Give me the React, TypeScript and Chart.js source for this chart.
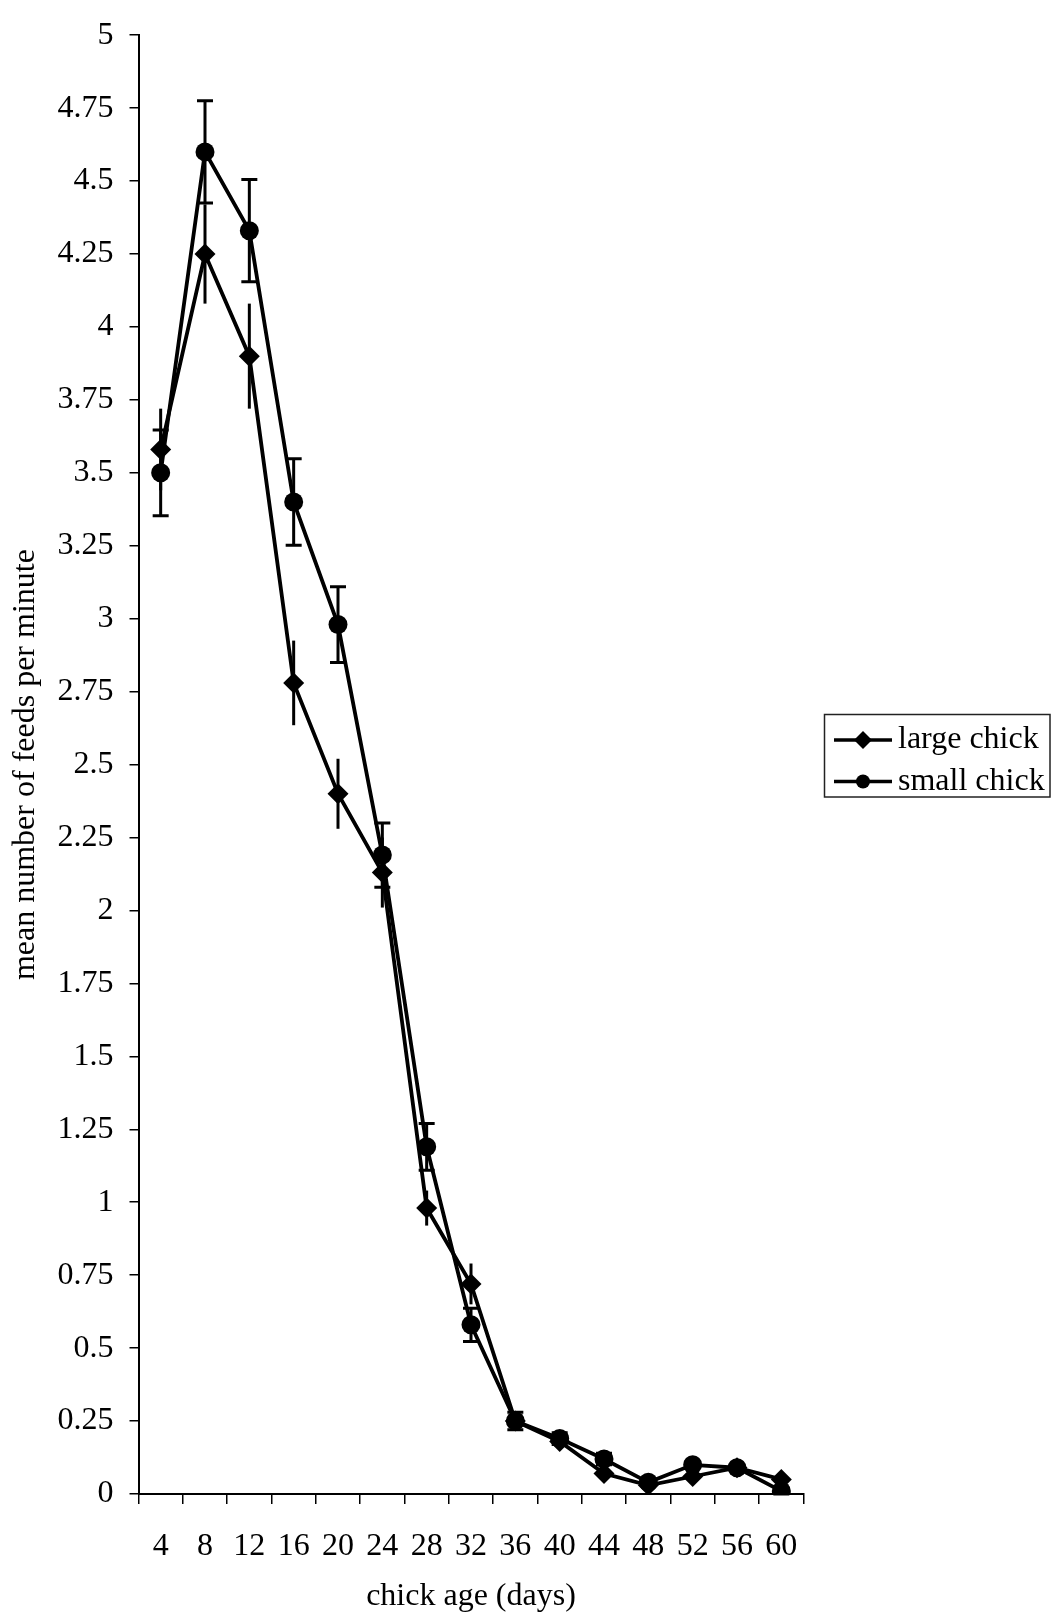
import React, { useEffect, useRef } from "react";
import { Chart, registerables } from "chart.js";

Chart.register(...registerables);

const categories = ["4", "8", "12", "16", "20", "24", "28", "32", "36", "40", "44", "48", "52", "56", "60"];
const largeChick = [3.58, 4.25, 3.9, 2.78, 2.4, 2.13, 0.98, 0.72, 0.25, 0.18, 0.07, 0.03, 0.06, 0.09, 0.05];
const largeChickErr = [0.14, 0.17, 0.18, 0.145, 0.12, 0.12, 0.06, 0.07, 0.03, 0.015, 0.015, 0.01, 0.01, 0.01, 0.01];
const smallChick = [3.5, 4.6, 4.33, 3.4, 2.98, 2.19, 1.19, 0.58, 0.25, 0.19, 0.12, 0.04, 0.1, 0.09, 0.01];
const smallChickErr = [0.147, 0.175, 0.175, 0.148, 0.13, 0.11, 0.08, 0.057, 0.03, 0.02, 0.02, 0.01, 0.01, 0.01, 0.01];
const yMin = 0;
const yMax = 5;
const yStep = 0.25;
const seriesLabels = ["large chick", "small chick"];
const xTitle = "chick age (days)";
const yTitle = "mean number of feeds per minute";

const FONT = '"Liberation Serif", "Times New Roman", serif';

const errorBarPlugin = {
  id: "errorBars",
  afterDatasetsDraw(chart: any) {
    const ctx = chart.ctx;
    const yScale = chart.scales.y;
    const errs = [largeChickErr, smallChickErr];
    const vals = [largeChick, smallChick];
    const caps = [false, true];
    ctx.save();
    ctx.strokeStyle = "#000";
    ctx.lineWidth = 3;
    for (let d = 0; d < 2; d++) {
      const meta = chart.getDatasetMeta(d);
      meta.data.forEach((pt: any, i: number) => {
        const x = pt.x;
        const yTop = yScale.getPixelForValue(vals[d][i] + errs[d][i]);
        const yBot = yScale.getPixelForValue(vals[d][i] - errs[d][i]);
        ctx.beginPath();
        ctx.moveTo(x, yTop);
        ctx.lineTo(x, yBot);
        if (caps[d]) {
          ctx.moveTo(x - 8, yTop);
          ctx.lineTo(x + 8, yTop);
          ctx.moveTo(x - 8, yBot);
          ctx.lineTo(x + 8, yBot);
        }
        ctx.stroke();
      });
    }
    ctx.restore();
  },
};

const legendPlugin = {
  id: "boxLegend",
  afterDraw(chart: any) {
    const ctx = chart.ctx;
    ctx.save();
    ctx.strokeStyle = "#222";
    ctx.lineWidth = 1.5;
    ctx.strokeRect(824.5, 714.5, 225.5, 82.5);
    const rows = [740, 781.5];
    rows.forEach((y, i) => {
      ctx.strokeStyle = "#000";
      ctx.lineWidth = 3.5;
      ctx.beginPath();
      ctx.moveTo(834, y);
      ctx.lineTo(892, y);
      ctx.stroke();
      ctx.fillStyle = "#000";
      ctx.beginPath();
      if (i === 0) {
        ctx.moveTo(863, y - 9);
        ctx.lineTo(872, y);
        ctx.lineTo(863, y + 9);
        ctx.lineTo(854, y);
        ctx.closePath();
      } else {
        ctx.arc(863, y, 7, 0, Math.PI * 2);
      }
      ctx.fill();
      ctx.font = `32px ${FONT}`;
      ctx.textAlign = "left";
      ctx.textBaseline = "middle";
      ctx.fillText(chart.data.datasets[i].label, 898, y);
    });
    ctx.restore();
  },
};

export default function App() {
  const ref = useRef<HTMLCanvasElement | null>(null);
  useEffect(() => {
    if (!ref.current) return;
    const chart = new Chart(ref.current, {
      type: "line",
      data: {
        labels: categories,
        datasets: [
          {
            label: seriesLabels[0],
            data: largeChick,
            borderColor: "#000",
            backgroundColor: "#000",
            borderWidth: 3.8,
            pointStyle: "rectRot",
            pointRadius: 10.5,
            pointBorderWidth: 0,
            tension: 0,
          },
          {
            label: seriesLabels[1],
            data: smallChick,
            borderColor: "#000",
            backgroundColor: "#000",
            borderWidth: 3.8,
            pointStyle: "circle",
            pointRadius: 9.5,
            pointBorderWidth: 0,
            tension: 0,
          },
        ],
      },
      options: {
        responsive: false,
        animation: false,
        devicePixelRatio: 1,
        layout: { padding: { left: 0, top: 24, right: 249.5, bottom: 0 } },
        plugins: {
          legend: { display: false },
          tooltip: { enabled: false },
        },
        scales: {
          x: {
            type: "category",
            offset: true,
            grid: {
              offset: true,
              drawOnChartArea: false,
              drawTicks: true,
              tickLength: 10,
              color: "#000",
              lineWidth: 1.5,
            },
            border: { display: true, color: "#000", width: 2 },
            ticks: {
              color: "#000",
              font: { family: FONT, size: 32 },
              padding: 23,
              maxRotation: 0,
              autoSkip: false,
            },
            title: {
              display: true,
              text: xTitle,
              color: "#000",
              font: { family: FONT, size: 32 },
              padding: { top: 0, bottom: 0 },
            },
            afterFit(scale: any) {
              scale.height = 122;
            },
          },
          y: {
            type: "linear",
            min: yMin,
            max: yMax,
            ticks: {
              stepSize: yStep,
              color: "#000",
              font: { family: FONT, size: 32 },
              padding: 16,
              callback: (v: any) => String(Math.round(Number(v) * 100) / 100),
            },
            grid: {
              drawOnChartArea: false,
              drawTicks: true,
              tickLength: 9,
              color: "#000",
              lineWidth: 1.5,
            },
            border: { display: true, color: "#000", width: 2 },
            title: {
              display: true,
              text: yTitle,
              color: "#000",
              font: { family: FONT, size: 32 },
              padding: { top: 6, bottom: 0 },
            },
            afterFit(scale: any) {
              scale.width = 138.5;
            },
          },
        },
      },
      plugins: [errorBarPlugin, legendPlugin],
    } as any);
    return () => chart.destroy();
  }, []);
  return (
    <div style={{ position: "absolute", left: 0, top: 0, width: 1053, height: 1616, background: "#fff" }}>
      <canvas ref={ref} width={1053} height={1616} style={{ width: 1053, height: 1616, display: "block" }} />
    </div>
  );
}
